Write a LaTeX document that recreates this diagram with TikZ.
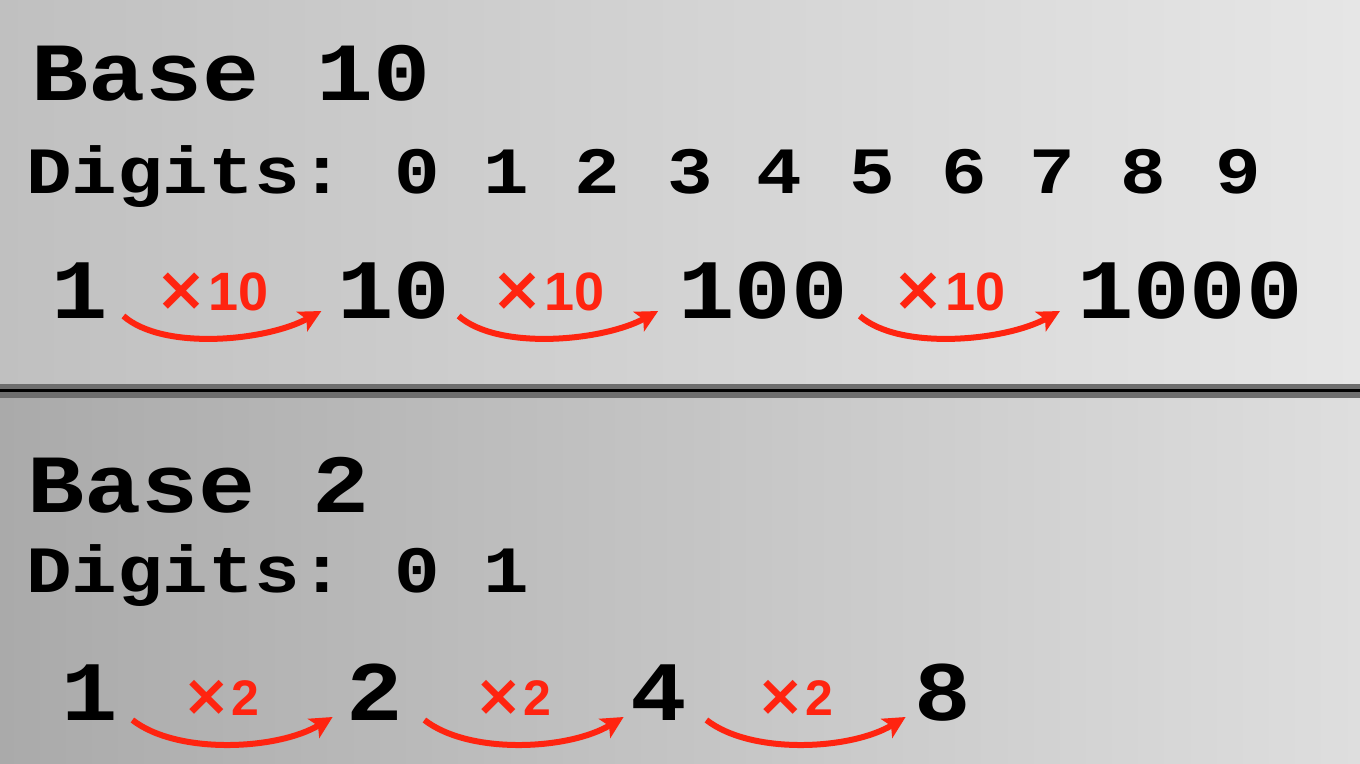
\documentclass[tikz,border=0pt]{standalone}
\usepackage{fontspec}
\usepackage{graphicx}
\usetikzlibrary{arrows.meta,calc}
\newfontfamily\monofnt{Liberation Mono}
\newfontfamily\lblfnt{Liberation Sans}
\newfontfamily\timesfnt{DejaVu Sans}
\newcommand{\squash}[1]{\scalebox{1}[0.87]{#1}}
\newcommand{\bigtimes}{{\timesfnt\bfseries\fontsize{62}{62}\selectfont ×}\kern0.02em}
\newcommand{\smalltimes}{{\timesfnt\bfseries\fontsize{58}{58}\selectfont ×}\kern0.02em}
\definecolor{arrred}{HTML}{FF2410}
\definecolor{bgTL}{HTML}{C0C0C0}
\definecolor{bgTR}{HTML}{E6E6E6}
\definecolor{bgBL}{HTML}{AAAAAA}
\definecolor{bgBR}{HTML}{DEDEDE}
\definecolor{sepgray}{HTML}{6E6E6E}
\tikzset{
  titletxt/.style={font=\monofnt\bfseries\fontsize{95}{95}\selectfont, inner sep=0pt, text=black},
  digtxt/.style={font=\monofnt\bfseries\fontsize{76}{76}\selectfont, inner sep=0pt, text=black},
  bignum/.style={font=\monofnt\bfseries\fontsize{94}{94}\selectfont, inner sep=0pt, text=black, anchor=base},
  lbl/.style={font=\lblfnt\bfseries\fontsize{54}{54}\selectfont, inner sep=0pt, text=arrred, anchor=base},
  lblsmall/.style={font=\lblfnt\bfseries\fontsize{50}{50}\selectfont, inner sep=0pt, text=arrred, anchor=base},
  arr/.style={draw=arrred, line width=6pt, -{Stealth[length=22pt,width=22pt,inset=5pt]}}
}
\begin{document}
\begin{tikzpicture}[x=1pt,y=-1pt]
\useasboundingbox (0,0) rectangle (1360,763);
% background
\shade[left color=bgTL, right color=bgTR] (0,0) rectangle (1360,384);
\shade[left color=bgBL, right color=bgBR] (0,398) rectangle (1360,763);
\fill[sepgray] (0,384) rectangle (1360,398);
\fill[black] (0,389) rectangle (1360,392);

% ---------- Base 10 ----------
\node[titletxt, anchor=base west] (t1) at (31,100) {\squash{Base 10}};
\node[digtxt, anchor=base west] (d1) at (26,193) {\squash{Digits:}};
\foreach \d/\x in {0/417,1/506,2/597,3/690,4/779,5/872,6/964,7/1052,8/1143,9/1238}
  \node[digtxt, anchor=base] (dd\d) at (\x,193) {\squash{\d}};

\node[bignum] (a1) at (80,318) {\scalebox{1}[0.9]{1}};
\node[bignum] (a2) at (394,318) {\scalebox{1}[0.9]{10}};
\node[bignum] (a3) at (763,318) {\scalebox{1}[0.9]{100}};
\node[bignum] (a4) at (1190,318) {\scalebox{1}[0.9]{1000}};

\draw[arr] ($(a1.base east)+(15,-2)$) .. controls +(40,35) and +(-55,30) .. ($(a2.base west)+(-16,-7)$);
\draw[arr] ($(a2.base east)+(8,-2)$) .. controls +(40,35) and +(-55,30) .. ($(a3.base west)+(-20,-7)$);
\draw[arr] ($(a3.base east)+(12,-2)$) .. controls +(40,35) and +(-55,30) .. ($(a4.base west)+(-17,-7)$);

\node[lbl] (m1) at (212,310) {\bigtimes10};
\node[lbl] (m2) at (548,310) {\bigtimes10};
\node[lbl] (m3) at (949,310) {\bigtimes10};

% ---------- Base 2 ----------
\node[titletxt, anchor=base west] (t2) at (27,512) {\squash{Base 2}};
\node[digtxt, anchor=base west] (d2) at (26,592) {\squash{Digits:}};
\node[digtxt, anchor=base] (e0) at (417,592) {\squash{0}};
\node[digtxt, anchor=base] (e1) at (506,592) {\squash{1}};

\node[bignum] (b1) at (90,720) {\scalebox{1}[0.9]{1}};
\node[bignum] (b2) at (375,720) {\scalebox{1}[0.9]{2}};
\node[bignum] (b3) at (659,720) {\scalebox{1}[0.9]{4}};
\node[bignum] (b4) at (943,720) {\scalebox{1}[0.9]{8}};

\draw[arr] ($(b1.base east)+(14,0)$) .. controls +(45,35) and +(-55,33) .. ($(b2.base west)+(-14,-3)$);
\draw[arr] ($(b2.base east)+(21,0)$) .. controls +(45,35) and +(-55,33) .. ($(b3.base west)+(-7,-3)$);
\draw[arr] ($(b3.base east)+(19,0)$) .. controls +(45,35) and +(-55,33) .. ($(b4.base west)+(-9,-3)$);

\node[lblsmall] (n1) at (221,715) {\smalltimes2};
\node[lblsmall] (n2) at (513,715) {\smalltimes2};
\node[lblsmall] (n3) at (795,715) {\smalltimes2};
\end{tikzpicture}
\end{document}
